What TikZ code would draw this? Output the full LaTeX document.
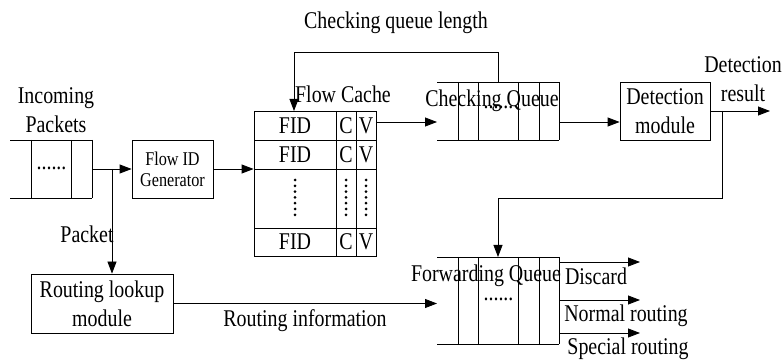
\documentclass[tikz,border=0pt]{standalone}
\usepackage{fontspec}
\setmainfont{Liberation Serif}[FakeStretch=0.83]
\usetikzlibrary{arrows.meta,positioning,calc}

\begin{document}
\begin{tikzpicture}[x=1pt, y=-1pt, line width=0.8pt,
	arr/.style={-{Triangle[length=12pt,width=9pt]}},
	txt/.style={inner sep=0pt, font=\fontsize{24}{29}\selectfont, align=center},
	smalltxt/.style={inner sep=0pt, font=\fontsize{19.5}{21}\selectfont, align=center},
	modbox/.style={draw, inner sep=0pt, align=center}]
		\useasboundingbox (0,0) rectangle (782,363);
		% 模块
		\node[modbox, smalltxt, minimum width=81pt, minimum height=58pt] (gen) at (172.5,169) {Flow ID\\Generator};
		\node[modbox, txt, minimum width=90pt, minimum height=58pt] (det) at (665,111) {Detection\\module};
		\node[modbox, txt, minimum width=142pt, minimum height=59pt] (rlm) at (102,303.5) {Routing lookup\\module};
		% 流缓存表
		\node[draw, inner sep=0pt, minimum width=122pt, minimum height=145pt] (fc) at (315,183.5) {};
		\draw (254,140) -- (376,140);
		\draw (254,169) -- (376,169);
		\draw (254,228) -- (376,228);
		\draw (336,111) -- (336,256);
		\draw (356,111) -- (356,256);
		\foreach \y/\n in {125.5/1,154.5/2,242/3} {
			\node[txt] (fid\n) at (295,\y) {FID};
			\node[txt] (c\n) at (346,\y) {C};
			\node[txt] (v\n) at (366,\y) {V};
		}
		\foreach \x in {295,346,366}
			\foreach \k in {0,...,6}
				\fill (\x,180+\k*5.8) circle (1.5pt);
		% 输入队列
		\draw (10,140) -- (92,140);
		\draw (10,198) -- (92,198);
		\foreach \x in {31,71,92} \draw (\x,140) -- (\x,198);
		\node[txt] (indots) at (51.5,168) {......};
		% 检测队列
		\draw (437,82) -- (559,82);
		\draw (437,140) -- (559,140);
		\foreach \x in {458,478,518,539,559} \draw (\x,82) -- (\x,140);
		\node[txt] (cqdots) at (498.5,107) {......};
		% 转发队列
		\draw (437,257) -- (559,257);
		\draw (437,344) -- (559,344);
		\foreach \x in {458,478,518,539,559} \draw (\x,257) -- (\x,344);
		\node[txt] (fqdots) at (498.5,299) {......};
		% 连线
		\coordinate (inq) at (92,169);
		\coordinate (pkt) at (112,169);
		\draw[arr] (inq) -- (gen.west);
		\draw[arr] (pkt) -- (pkt |- rlm.north);
		\draw[arr] (gen.east) -- (gen.east -| fc.west);
		\coordinate (cqtop) at (498,82);
		\coordinate (fctop) at (294,111);
		\draw[arr] (cqtop) -- (498,52) -- (294,52) -- (fctop);
		\coordinate (fcout) at (376,122);
		\coordinate (cqin) at (437,122);
		\draw[arr] (fcout) -- (cqin);
		\coordinate (cqout) at (559,122);
		\draw[arr] (cqout) -- (cqout -| det.west);
		\coordinate (detout) at (770,111);
		\draw[arr] (det.east) -- (detout);
		\coordinate (dr) at (722,111);
		\coordinate (fqtop) at (498,257);
		\draw[arr] (dr) -- (722,198) -- (498,198) -- (fqtop);
		\coordinate (fqin) at (437,303.5);
		\draw[arr] (rlm.east) -- (fqin);
		\foreach \y/\n in {262/dis,300/nor,333/spe}
			\draw[arr] (559,\y) -- (640,\y) coordinate (\n);
		% 标注
		\node[txt] (inlbl) at (56,110) {Incoming\\Packets};
		\node[txt] (fclbl) at (343,94) {Flow Cache};
		\node[txt] (lenlbl) at (396,23) {Checking queue length};
		\node[txt] (cqlbl) at (492,101) {Checking Queue};
		\node[txt] (reslbl) at (743,79) {Detection\\result};
		\node[txt] (pktlbl) at (87,234) {Packet};
		\node[txt] (rilbl) at (305,321) {Routing information};
		\node[txt] (fqlbl) at (486,276) {Forwarding Queue};
		\node[txt] (dislbl) at (596,276) {Discard};
		\node[txt] (norlbl) at (626,316) {Normal routing};
		\node[txt] (spelbl) at (628,349) {Special routing};
	\end{tikzpicture}
\end{document}
